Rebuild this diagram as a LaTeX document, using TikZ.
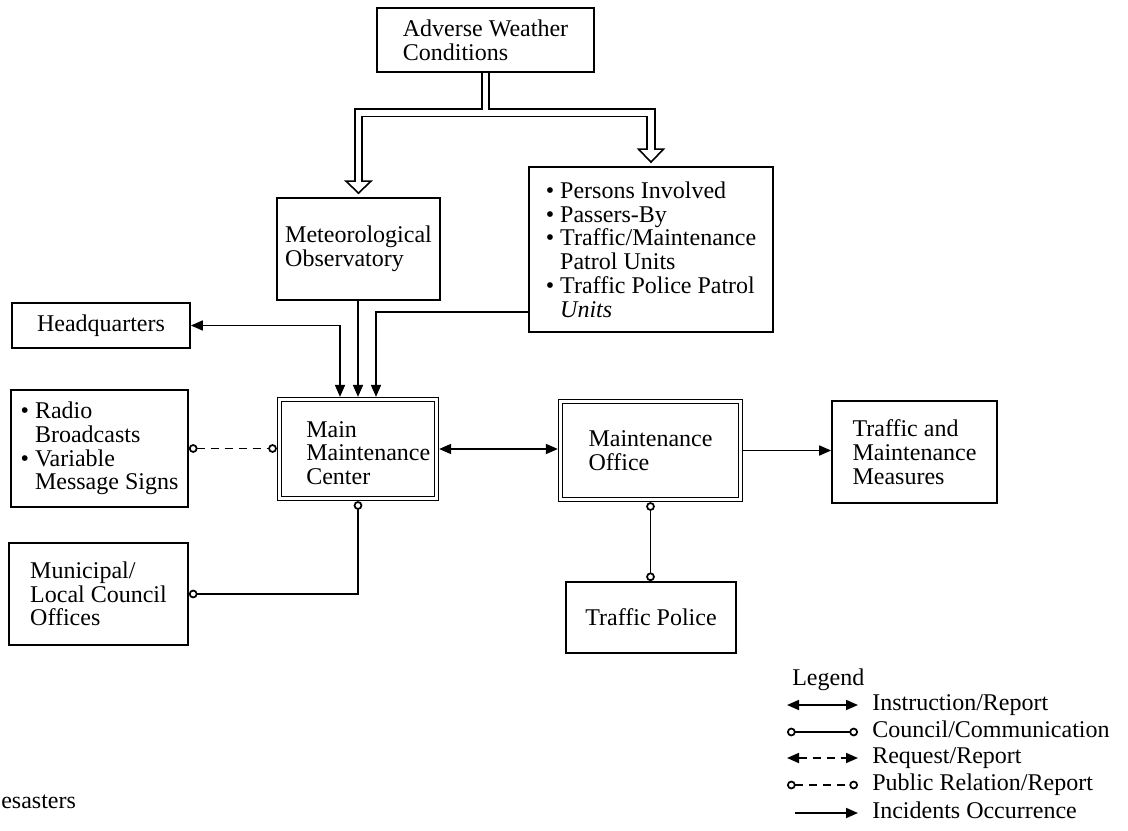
\documentclass[tikz,border=0pt]{standalone}
\usepackage{fontspec}
\setmainfont{Liberation Serif}
\usetikzlibrary{arrows.meta,calc}
\begin{document}
\begin{tikzpicture}[x=0.75pt,y=-0.75pt,
  every node/.style={font=\fontsize{18}{17.8}\selectfont},
  box/.style={draw, line width=1.3pt, inner sep=2pt, align=left},
  dbox/.style={draw, line width=0.9pt, double, double distance=2pt,
               outer sep=1.9pt, inner sep=2pt},
  hd/.tip={Triangle[length=9pt,width=7.5pt]},
  rg/.tip={Circle[open,length=6.5pt]},
  link/.style={line width=1.3pt},
  dashlink/.style={line width=1.3pt, dash pattern=on 6pt off 4.5pt},
  instr/.style={link, hd-hd},
  incid/.style={link, -hd},
  council/.style={link, rg-rg},
  request/.style={dashlink, hd-hd},
  pubrel/.style={dashlink, rg-rg},
  bandout/.style={line width=6.8pt, line join=miter},
  bandin/.style={white, line width=4.4pt, line join=miter},
  headtri/.style={line width=1.2pt, fill=white, line join=miter},
  legtext/.style={anchor=west, inner sep=0pt, text height=12pt, text depth=3.5pt}
]
\useasboundingbox (0,0) rectangle (1128,831);

% ---- boxes ----
\node[box, minimum width=162.75pt, minimum height=48pt] (awc) at (485.5,40)
  {Adverse Weather\\Conditions};
\node[box, minimum width=122.25pt, minimum height=76.5pt] (met) at (358.5,249)
  {Meteorological\\Observatory};
\node[box, minimum width=183pt, minimum height=123.75pt] (per) at (651,249.5)
  {\textbullet\ Persons Involved\\
   \textbullet\ Passers-By\\
   \textbullet\ Traffic/Maintenance\\
   \phantom{\textbullet\ }Patrol Units\\
   \textbullet\ Traffic Police Patrol\\
   \phantom{\textbullet\ }\textit{Units}};
\node[box, minimum width=133.5pt, minimum height=33.75pt] (hq) at (101,325.5)
  {Headquarters};
\node[box, minimum width=132.75pt, minimum height=87.75pt] (rad) at (99.5,448.5)
  {\textbullet\ Radio\\
   \phantom{\textbullet\ }Broadcasts\\
   \textbullet\ Variable\\
   \phantom{\textbullet\ }Message Signs};
\node[dbox, minimum width=117.9pt, minimum height=74.4pt] (mmc) at (358,449) {};
\node[anchor=west, inner sep=0pt, align=left] (mmctxt) at (306,453)
  {Main\\Maintenance\\Center};
\node[dbox, align=left, minimum width=135.2pt, minimum height=73.7pt] (mo) at (650.5,450.5)
  {Maintenance\\Office};
\node[box, minimum width=123.75pt, minimum height=76.5pt] (tmm) at (914.5,452)
  {Traffic and\\Maintenance\\Measures};
\node[box, minimum width=134.25pt, minimum height=76.5pt] (mun) at (98.5,594)
  {Municipal/\\Local Council\\Offices};
\node[box, minimum width=127.5pt, minimum height=53.25pt] (tp) at (651,617.5)
  {Traffic Police};

% ---- hollow block arrows from the weather box ----
\coordinate (jn) at ($(awc.south)+(0,40)$);
\coordinate (lt) at ($(met.north)+(0,-16)$);
\coordinate (rt) at ($(per.north)+(0,-17)$);
\draw[bandout] (awc.south) -- (jn) -| (lt);
\draw[bandout] (awc.south) -- (jn) -| (rt);
\draw[headtri] ($(lt)+(-12.5,0)$) -- ($(lt)+(12.5,0)$) -- ($(met.north)+(0,-4)$) -- cycle;
\draw[headtri] ($(rt)+(-12.5,0)$) -- ($(rt)+(12.5,0)$) -- ($(per.north)+(0,-4)$) -- cycle;
\draw[bandin] (awc.south) -- (jn) -| ($(lt)+(0,2)$);
\draw[bandin] (awc.south) -- (jn) -| ($(rt)+(0,2)$);

% ---- connectors ----
\draw[instr] (hq.east) -| ($(mmc.north)+(-18,0)$);
\draw[incid] (mmc.north |- met.south) -- (mmc.north);
\draw[incid] ($(per.west)+(0,62.5)$) -| ($(mmc.north)+(18,0)$);
\draw[instr] (mmc.east) -- (mmc.east -| mo.west);
\draw[incid] (mo.east) -- (mo.east -| tmm.west);
\draw[council] (mo.south) -- (mo.south |- tp.north);
\draw[pubrel] (rad.east) -- (rad.east -| mmc.west);
\draw[council] (mmc.south) |- (mun.east);

% ---- legend ----
\node[legtext] (legtitle) at (792,680) {Legend};
\coordinate (l1a) at (787,705); \coordinate (l1b) at (858,705);
\coordinate (l2a) at (787,732); \coordinate (l2b) at (858,732);
\coordinate (l3a) at (787,758); \coordinate (l3b) at (858,758);
\coordinate (l4a) at (787,785); \coordinate (l4b) at (858,785);
\coordinate (l5a) at (795,813); \coordinate (l5b) at (858,813);
\draw[instr] (l1a) -- (l1b);
\draw[council] (l2a) -- (l2b);
\draw[request] (l3a) -- (l3b);
\draw[pubrel] (l4a) -- (l4b);
\draw[incid] (l5a) -- (l5b);
\node[legtext] (t1) at (872,705) {Instruction/Report};
\node[legtext] (t2) at (872,732) {Council/Communication};
\node[legtext] (t3) at (872,758) {Request/Report};
\node[legtext] (t4) at (872,785) {Public Relation/Report};
\node[legtext] (t5) at (872,813) {Incidents Occurrence};

% ---- caption fragment ----
\node[legtext] (cap) at (1,803) {esasters};
\end{tikzpicture}
\end{document}
